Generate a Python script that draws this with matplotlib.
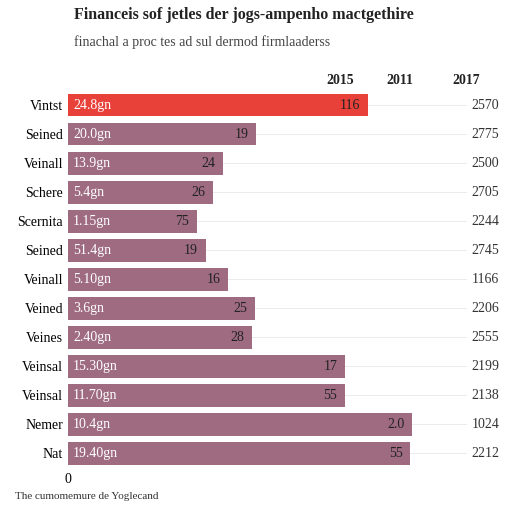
import matplotlib
matplotlib.use("Agg")
import matplotlib.pyplot as plt
plt.rcParams['font.family'] = ['Liberation Serif', 'DejaVu Serif']

categories = ["Vintst","Seined","Veinall","Schere","Scernita","Seined","Veinall","Veined","Veines","Veinsal","Veinsal","Nemer","Nat"]
inner = ["24.8gn","20.0gn","13.9gn","5.4gn","1.15gn","51.4gn","5.10gn","3.6gn","2.40gn","15.30gn","11.70gn","10.4gn","19.40gn"]
values = [300,188,155,145,129,138,160,187,184,277,277,344,342]
end_labels = ["116","19","24","26","75","19","16","25","28","17","55","2.0","55"]
right_col = ["2570","2775","2500","2705","2244","2745","1166","2206","2555","2199","2138","1024","2212"]
years = ["2015","2011","2017"]

fig = plt.figure(figsize=(5.12,5.12), dpi=100)
ax = fig.add_axes([0.133, 0.086, 0.78, 0.737])
n = len(categories)
ys = list(range(n))
colors = ["#e8413a"] + ["#9e6b80"]*(n-1)
ax.barh(ys, values, height=0.78, color=colors)
ax.set_ylim(n-0.5, -0.5)
ax.set_xlim(0, 399)
for y, v, t, e, r in zip(ys, values, inner, end_labels, right_col):
    ax.text(5, y, t, va="center", ha="left", color="white", fontsize=10)
    ax.text(v-8, y, e, va="center", ha="right", color="#222", fontsize=10)
    ax.text(1.01, y, r, transform=ax.get_yaxis_transform(), va="center", ha="left", fontsize=10, color="#333")
ax.set_yticks(ys)
ax.set_yticklabels(categories, fontsize=10)
ax.tick_params(length=0)
for s in ax.spines.values():
    s.set_visible(False)
ax.set_xticks([0])
ax.set_xticklabels(["0"], fontsize=10)
ax.grid(axis="y", color="#e8e8e8", lw=0.6)
ax.set_axisbelow(True)
for x, yr in zip([0.665, 0.78, 0.91], years):
    fig.text(x, 0.835, yr, ha="center", fontsize=10, fontweight="bold", color="#222")
fig.text(0.145, 0.962, "Financeis sof jetles der jogs-ampenho mactgethire", fontsize=11.5, fontweight="bold", color="#222")
fig.text(0.145, 0.91, "finachal a proc tes ad sul dermod firmlaaderss", fontsize=10, color="#444")
fig.text(0.03, 0.025, "The cumomemure de Yoglecand", fontsize=8, color="#333")
fig.savefig("out.png", dpi=100, facecolor="white")
